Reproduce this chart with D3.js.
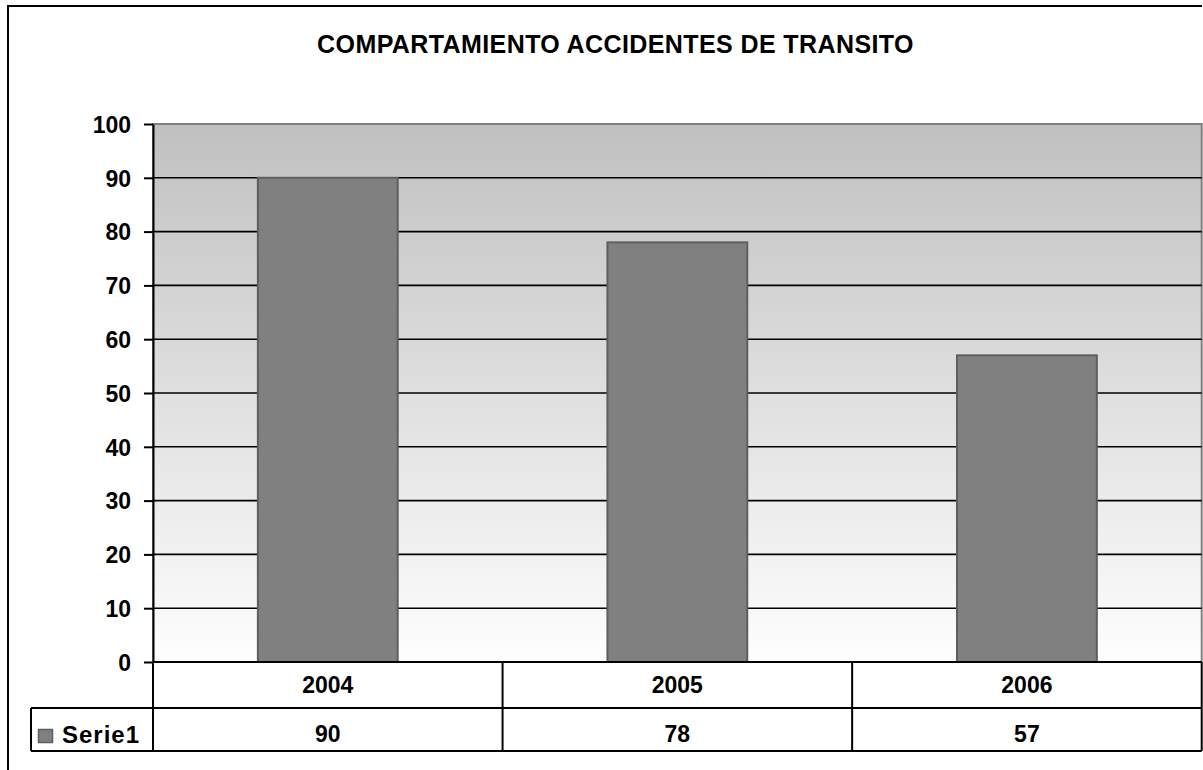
<!doctype html>
<html lang="es">
  <head>
    <meta charset="utf-8">
    <script src="https://cdn.jsdelivr.net/npm/d3@7"></script>
    <style>
      body {margin:0; background:#fff}
      svg {display:block}
      text {font-family:"Liberation Sans", Arial, sans-serif; font-weight:bold; fill:#000}
    </style>
    <title>Compartamiento accidentes de transito</title>
  </head>
  <body>
    <script>
      // datos
      let years = ["2004", "2005", "2006"];
      let serie1 = [90, 78, 57];
      let yTicks = [0, 10, 20, 30, 40, 50, 60, 70, 80, 90, 100];
      let seriesName = "Serie1";
      let title = "COMPARTAMIENTO ACCIDENTES DE TRANSITO";

      let W = 1203, H = 770;
      let plot = {left:153, right:1201.7, top:124, bottom:662};
      let row1 = 708, row2 = 751, tableLeft = 31;

      let svg = d3.select("body").append("svg")
        .attr("width", W)
        .attr("height", H);

      let defs = svg.append("defs");
      let grad = defs.append("linearGradient")
        .attr("id", "bg")
        .attr("x1", 0).attr("y1", 0).attr("x2", 0).attr("y2", 1);
      grad.append("stop").attr("offset", "0%").attr("stop-color", "#c0c0c0");
      grad.append("stop").attr("offset", "100%").attr("stop-color", "#fefefe");

      let y = d3.scaleLinear()
        .domain([0, 100])
        .range([plot.bottom, plot.top]);

      let x = d3.scaleBand()
        .domain(years)
        .range([plot.left, plot.right])
        .paddingInner(0.6)
        .paddingOuter(0.3);

      let cols = d3.scaleBand()
        .domain(years)
        .range([plot.left, plot.right]);

      // marco exterior (recortado a la derecha y abajo)
      svg.append("path")
        .attr("d", "M8," + (H + 5) + "V6H1202")
        .attr("fill", "none")
        .attr("stroke", "#000")
        .attr("stroke-width", 2);

      svg.append("text")
        .attr("x", 615.5)
        .attr("y", 53)
        .attr("text-anchor", "middle")
        .attr("font-size", "25px")
        .attr("letter-spacing", "0.4px")
        .text(title);

      // area de trazado
      svg.append("rect")
        .attr("x", plot.left)
        .attr("y", plot.top)
        .attr("width", plot.right - plot.left)
        .attr("height", plot.bottom - plot.top)
        .attr("fill", "url(#bg)")
        .attr("stroke", "#808080")
        .attr("stroke-width", 2);

      svg.append("g")
        .selectAll("line")
        .data(yTicks.filter(d => d > 0 && d < 100))
        .enter()
        .append("line")
        .attr("x1", plot.left)
        .attr("x2", plot.right)
        .attr("y1", d => y(d))
        .attr("y2", d => y(d))
        .attr("stroke", "#000")
        .attr("stroke-width", 1.6);

      svg.append("g")
        .selectAll("rect")
        .data(serie1)
        .enter()
        .append("rect")
        .attr("x", (d, i) => x(years[i]))
        .attr("width", x.bandwidth())
        .attr("y", d => y(d))
        .attr("height", d => y(0) - y(d))
        .attr("fill", "#808080")
        .attr("stroke", "#5e5e5e")
        .attr("stroke-width", 2);

      let yAxis = d3.axisLeft(y)
        .tickValues(yTicks)
        .tickSize(9)
        .tickPadding(13)
        .tickSizeOuter(0);

      let ya = svg.append("g")
        .attr("transform", "translate(" + plot.left + ",0)")
        .call(yAxis);
      ya.select(".domain").attr("stroke", "#000").attr("stroke-width", 2);
      ya.selectAll(".tick line").attr("stroke", "#000").attr("stroke-width", 2);
      ya.selectAll(".tick text")
        .attr("font-size", "23px")
        .attr("font-family", "Liberation Sans, Arial, sans-serif")
        .attr("dy", "0.36em");

      // tabla de datos
      let t = svg.append("g")
        .attr("fill", "none")
        .attr("stroke", "#000")
        .attr("stroke-width", 2);

      t.append("line").attr("x1", plot.left).attr("x2", plot.right).attr("y1", plot.bottom).attr("y2", plot.bottom);
      t.append("line").attr("x1", tableLeft).attr("x2", plot.right).attr("y1", row1).attr("y2", row1);
      t.append("line").attr("x1", tableLeft).attr("x2", plot.right).attr("y1", row2).attr("y2", row2);
      t.append("line").attr("x1", tableLeft).attr("x2", tableLeft).attr("y1", row1).attr("y2", row2);
      t.append("line").attr("x1", plot.left).attr("x2", plot.left).attr("y1", plot.bottom).attr("y2", row2);
      t.selectAll(".col")
        .data(years)
        .enter()
        .append("line")
        .attr("class", "col")
        .attr("x1", d => cols(d) + cols.bandwidth())
        .attr("x2", d => cols(d) + cols.bandwidth())
        .attr("y1", plot.bottom)
        .attr("y2", row2);

      svg.append("g")
        .selectAll("text")
        .data(years)
        .enter()
        .append("text")
        .attr("x", d => cols(d) + cols.bandwidth() / 2)
        .attr("y", 693)
        .attr("text-anchor", "middle")
        .attr("font-size", "23px")
        .text(d => d);

      svg.append("g")
        .selectAll("text")
        .data(serie1)
        .enter()
        .append("text")
        .attr("x", (d, i) => cols(years[i]) + cols.bandwidth() / 2)
        .attr("y", 742)
        .attr("text-anchor", "middle")
        .attr("font-size", "23px")
        .text(d => d);

      svg.append("rect")
        .attr("x", 38.5)
        .attr("y", 729.5)
        .attr("width", 14)
        .attr("height", 13)
        .attr("fill", "#808080")
        .attr("stroke", "#5e5e5e")
        .attr("stroke-width", 1.5);

      svg.append("text")
        .attr("x", 62)
        .attr("y", 743)
        .attr("font-size", "24px")
        .attr("letter-spacing", "1px")
        .text(seriesName);
    </script>
  </body>
</html>
